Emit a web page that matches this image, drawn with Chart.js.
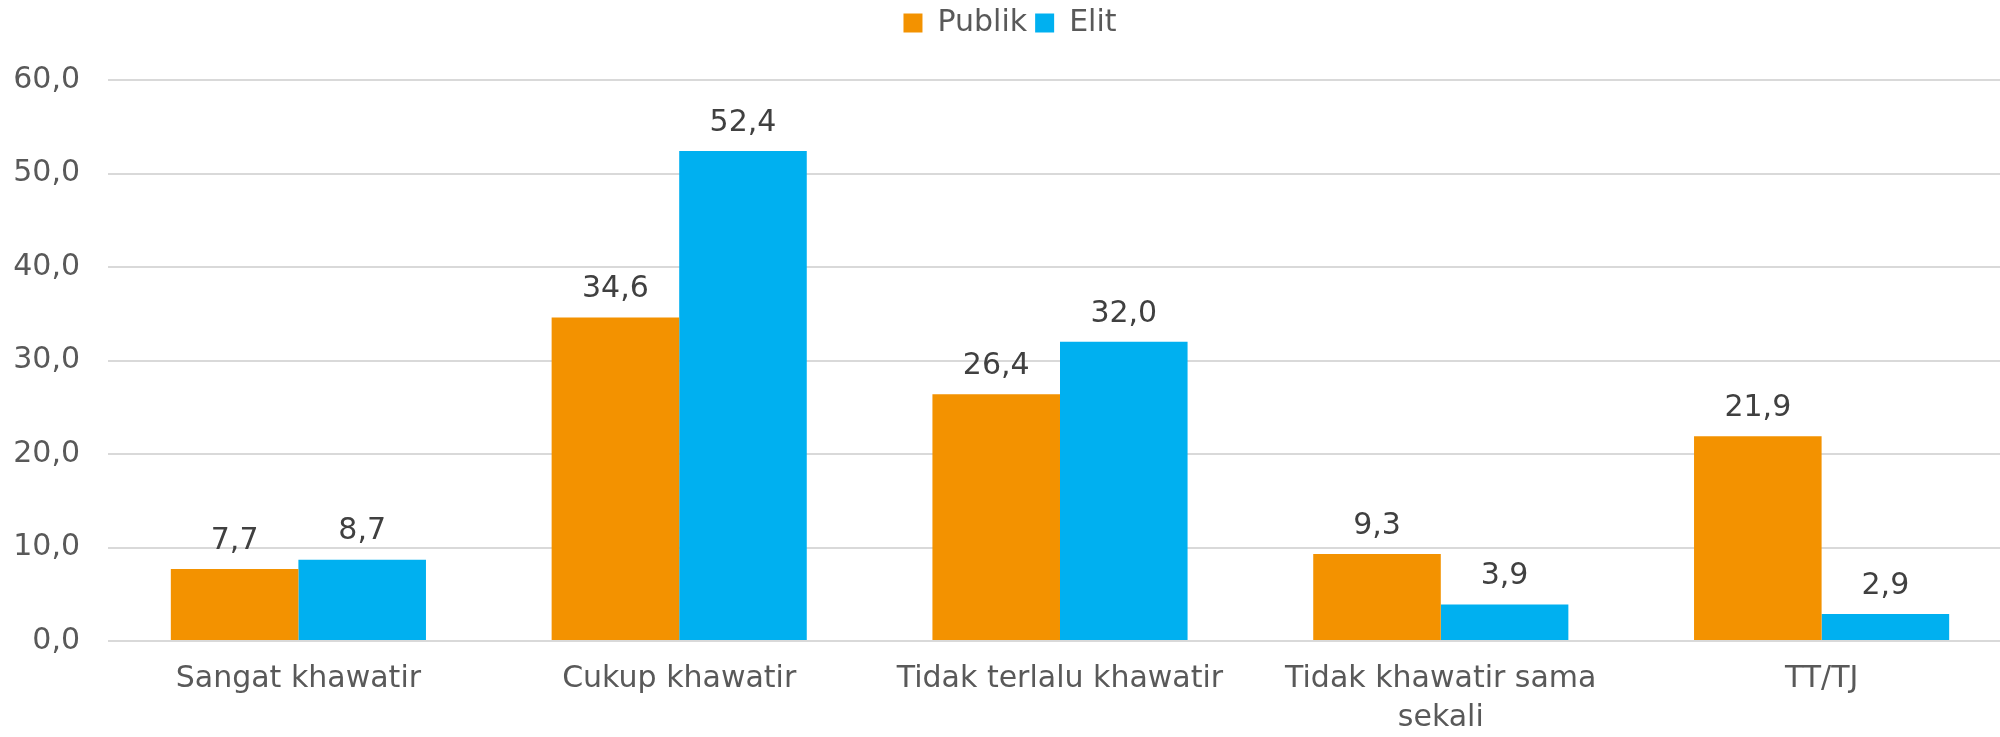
<!DOCTYPE html>
<html>
<head>
<meta charset="utf-8">
<script src="https://cdn.jsdelivr.net/npm/chart.js@4/dist/chart.umd.min.js"></script>
<style>
  body { margin: 0; background: #fff; overflow: hidden; }
  #wrap { width: 2012px; height: 737px; }
</style>
</head>
<body>
<div id="wrap"><canvas id="chart"></canvas></div>
<script>
const categories = ["Sangat khawatir", "Cukup khawatir", "Tidak terlalu khawatir", ["Tidak khawatir sama", "sekali"], "TT/TJ"]
const publik = [7.7, 34.6, 26.4, 9.3, 21.9]
const elit = [8.7, 52.4, 32.0, 3.9, 2.9]
const yTicks = [0, 10, 20, 30, 40, 50, 60]

const FONT = "'DejaVu Sans'"
const SIZE = 30

function fmt(v) {
  return v.toFixed(1).replace(".", ",")
}

// draws value labels above each bar
const barLabels = {
  id: "barLabels",
  afterDatasetsDraw(chart) {
    const ctx = chart.ctx
    ctx.save()
    ctx.font = SIZE + "px " + FONT
    ctx.fillStyle = "#404040"
    ctx.textAlign = "center"
    ctx.textBaseline = "middle"
    chart.data.datasets.forEach((ds, i) => {
      chart.getDatasetMeta(i).data.forEach((bar, j) => {
        ctx.fillText(fmt(ds.data[j]), bar.x, bar.y - 28)
      })
    })
    ctx.restore()
  }
}

// fixed legend height so the plot starts where the original does
const legendGap = {
  id: "legendGap",
  beforeInit(chart) {
    const fit = chart.legend.fit
    chart.legend.fit = function () {
      fit.bind(chart.legend)()
      this.height = 80
    }
  }
}

new Chart(document.getElementById("chart"), {
  type: "bar",
  data: {
    labels: categories,
    datasets: [
      { label: "Publik", data: publik, backgroundColor: "#F39200" },
      { label: "Elit", data: elit, backgroundColor: "#00B0F0" }
    ]
  },
  options: {
    responsive: true,
    maintainAspectRatio: false,
    animation: false,
    layout: { padding: { top: 0, left: 8, right: 0, bottom: 0 } },
    datasets: { bar: { categoryPercentage: 0.67, barPercentage: 1.0 } },
    plugins: {
      legend: {
        position: "top",
        labels: {
          boxWidth: 19, boxHeight: 19,
          color: "#595959",
          font: { family: FONT, size: SIZE },
          padding: 8
        }
      },
      tooltip: { enabled: false }
    },
    scales: {
      x: {
        grid: { display: false, drawTicks: false },
        border: { display: false },
        afterFit: axis => { axis.height = 96 },
        ticks: { color: "#595959", font: { family: FONT, size: SIZE, lineHeight: 1.3 }, maxRotation: 0, autoSkip: false, padding: 19 }
      },
      y: {
        min: 0, max: 60,
        afterBuildTicks: axis => { axis.ticks = yTicks.map(v => ({ value: v })) },
        afterFit: axis => { axis.width = 100 },
        grid: { color: "#d9d9d9", lineWidth: 2, drawTicks: false },
        border: { display: false },
        ticks: { color: "#595959", font: { family: FONT, size: SIZE }, padding: 28, callback: v => fmt(v) }
      }
    }
  },
  plugins: [barLabels, legendGap]
})
</script>
</body>
</html>
